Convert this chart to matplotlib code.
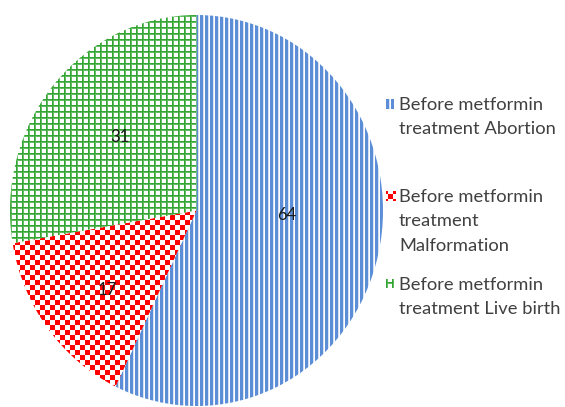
import numpy as np
import matplotlib
matplotlib.use("Agg")
import matplotlib.pyplot as plt

# ---- data ----
categories = ["Before metformin\ntreatment Abortion",
              "Before metformin\ntreatment\nMalformation",
              "Before metformin\ntreatment Live birth"]
values = [64, 17, 31]
value_labels = ["64", "17", "31"]

# ---- style ----
BLUE = "#5B8ED6"
RED = "#FF0000"
GREEN = "#33A532"
TEXT = "#404040"

W, H = 565, 407
fig = plt.figure(figsize=(W / 100, H / 100), dpi=100)

# pie axes (pixel placement: x 10..383, y 15..406 from top)
ax_l, ax_r, ax_t, ax_b = 10, 383, 15, 406
ax = fig.add_axes([ax_l / W, (H - ax_b) / H, (ax_r - ax_l) / W, (ax_b - ax_t) / H])

wedges, _ = ax.pie(values, startangle=90, counterclock=False,
                   colors=["white"] * 3, wedgeprops=dict(linewidth=0))
ax.set_aspect("auto")
ax.set_xlim(-1, 1)
ax.set_ylim(-1, 1)
ax.axis("off")


def rgba(c):
    return np.array(matplotlib.colors.to_rgba(c))


def blend(c, a):
    return a * rgba(c) + (1 - a) * np.array([1, 1, 1, 1.0])


def pattern_blue(ph, pw):
    yy, xx = np.indices((ph, pw))
    img = np.ones((ph, pw, 4))
    m = xx % 5
    img[m < 3] = rgba(BLUE)
    img[m == 3] = blend(BLUE, 0.25)
    return img


def pattern_red(ph, pw):
    yy, xx = np.indices((ph, pw))
    img = np.ones((ph, pw, 4))
    m = ((xx // 5) + (yy // 5)) % 2 == 0
    img[m] = rgba(RED)
    return img


def pattern_green(ph, pw):
    yy, xx = np.indices((ph, pw))
    img = np.ones((ph, pw, 4))
    mx, my = xx % 6, yy % 6
    img[(mx == 1) | (my == 1)] = blend(GREEN, 0.75)
    img[(mx == 0) | (my == 0)] = rgba(GREEN)
    return img


pattern_funcs = [pattern_blue, pattern_red, pattern_green]
pw, ph = ax_r - ax_l, ax_b - ax_t
for w, f in zip(wedges, pattern_funcs):
    im = ax.imshow(f(ph, pw), extent=(-1, 1, -1, 1), origin="upper",
                   interpolation="nearest", zorder=2, aspect="auto")
    im.set_clip_path(w)

# data labels
label_xy = [(0.485, -0.023), (-0.48, -0.407), (-0.41, 0.376)]
for (x, y), t in zip(label_xy, value_labels):
    ax.text(x, y, t, ha="center", va="center", fontsize=12,
            family="Lato", color="#1a1a1a", zorder=3)

# legend (drawn manually: marker aligned with first text line)
leg_marker_x = 386
leg_text_x = 399
leg_first_line_y = [104, 196, 284]   # pixel rows from top (first-line centre)
# marker crop: (rows offset, cols offset, height, width)
marker_crops = [(0, 0, 10, 8), (2, 3, 10, 10), (3, 0, 9, 8)]
for f, lab, yc, (r0, c0, mh, mw) in zip(pattern_funcs, categories,
                                        leg_first_line_y, marker_crops):
    big = f(30, 30)
    marker = big[r0:r0 + mh, c0:c0 + mw][::-1]
    fig.figimage(marker, xo=leg_marker_x, yo=H - yc - mh // 2,
                 origin="lower", zorder=5)
    fig.text(leg_text_x / W, (H - yc + 7.5) / H, lab, ha="left", va="top",
             family="Lato", fontsize=13.2, color=TEXT, linespacing=1.68)

fig.savefig("out.png", dpi=100)
